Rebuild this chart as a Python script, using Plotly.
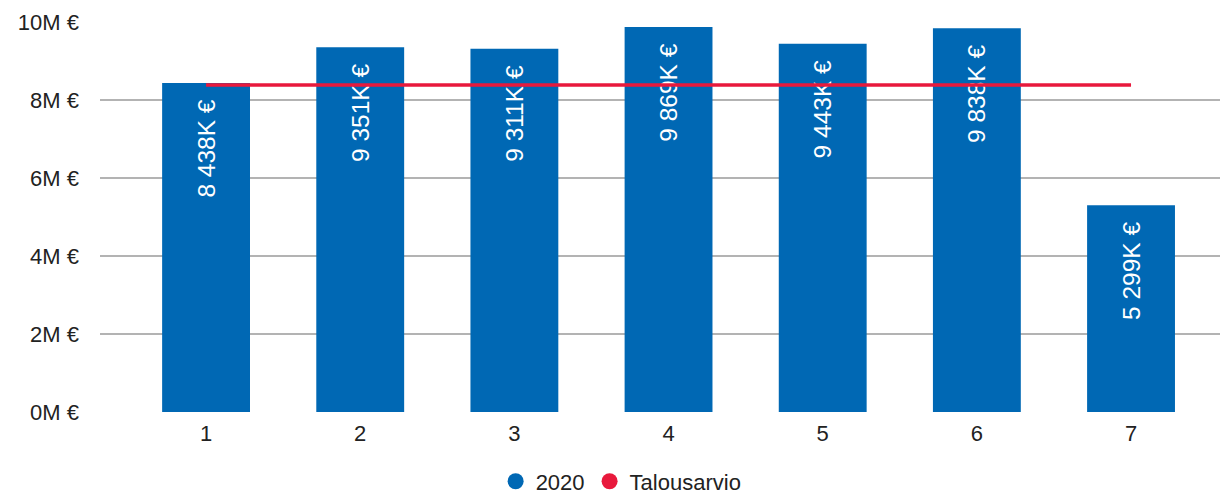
import plotly.graph_objects as go

categories = [1, 2, 3, 4, 5, 6, 7]
values_k = [8438, 9351, 9311, 9869, 9443, 9838, 5299]
budget_k = [8385, 8385, 8385, 8385, 8385, 8385, 8385]
tick_vals_m = [0, 2, 4, 6, 8, 10]

BLUE = "#0068b4"
RED = "#e8193c"
FONT = "Liberation Sans, Arial, sans-serif"

def fmt(k):
    s = f"{k:,}".replace(",", " ")
    return f"{s}K €\u00a0\u00a0"

fig = go.Figure()
fig.add_trace(go.Bar(
    x=categories, y=[v * 1000 for v in values_k],
    marker=dict(color=BLUE, line=dict(width=0)),
    width=0.57,
    text=[fmt(v) for v in values_k],
    textposition="inside", insidetextanchor="end", textangle=-90,
    textfont=dict(color="white", size=24.5, family=FONT),
    name="2020", showlegend=False, hoverinfo="skip",
))
fig.add_trace(go.Scatter(
    x=categories, y=[v * 1000 for v in budget_k], mode="lines",
    line=dict(color=RED, width=3.5), name="Talousarvio", showlegend=False,
    hoverinfo="skip",
))
# legend entries with circle markers
fig.add_trace(go.Scatter(x=[None], y=[None], mode="markers",
                         marker=dict(color=BLUE, size=19, symbol="circle"), name="2020"))
fig.add_trace(go.Scatter(x=[None], y=[None], mode="markers",
                         marker=dict(color=RED, size=19, symbol="circle"), name="Talousarvio"))

fig.update_layout(
    width=1220, height=488,
    margin=dict(l=92, r=0, t=14, b=84, autoexpand=False),
    plot_bgcolor="white", paper_bgcolor="white",
    font=dict(family=FONT, size=22, color="#222222"),
    showlegend=True,
    legend=dict(orientation="h", x=0.462, xanchor="center", y=-0.178, yanchor="middle",
                font=dict(size=22, color="#222222"), itemwidth=30, tracegroupgap=0,
                bgcolor="rgba(0,0,0,0)"),
)
fig.update_xaxes(
    range=[0.312, 7.629], tickvals=categories, ticktext=[str(c) for c in categories],
    showgrid=False, zeroline=False, showline=False, ticks="", ticklabelstandoff=6,
    automargin=False,
)
fig.update_yaxes(
    range=[0, 10_000_000], tickvals=[m * 1_000_000 for m in tick_vals_m],
    ticktext=[f"{m}M €" for m in tick_vals_m],
    showgrid=True, gridcolor="#b3b3b3", gridwidth=2, zeroline=False, showline=False,
    ticks="", ticklabelstandoff=20, automargin=False,
)

fig.write_html("out.html")
